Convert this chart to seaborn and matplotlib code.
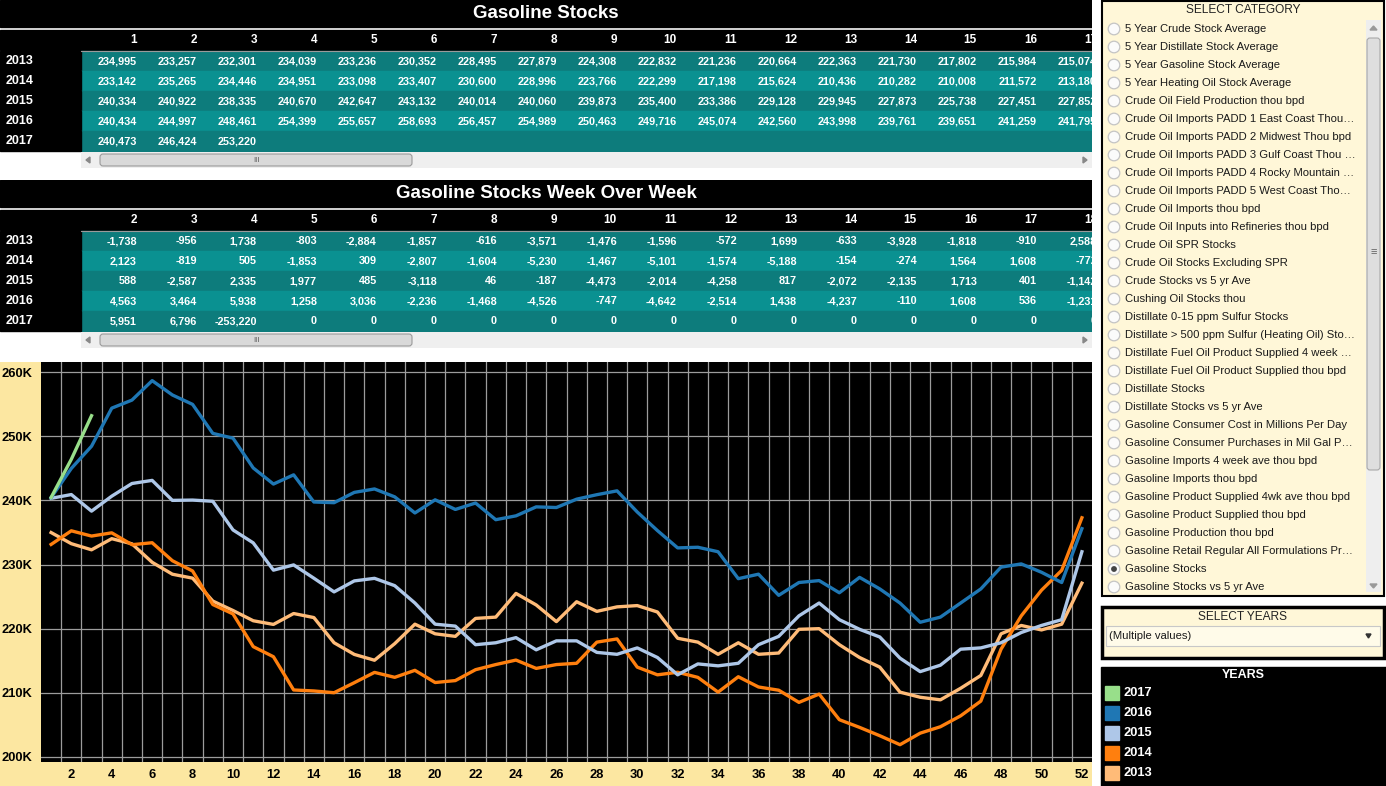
import matplotlib
matplotlib.use("Agg")
import matplotlib.pyplot as plt
import numpy as np
import pandas as pd
import seaborn as sns
from matplotlib.patches import Rectangle, Circle, FancyBboxPatch, Polygon
from matplotlib.ticker import FuncFormatter

# weekly gasoline stocks (thousand barrels), weeks 1..52
years = [2013, 2014, 2015, 2016, 2017]
stocks_2013 = [234995, 233257, 232301, 234039, 233236, 230352, 228495, 227879, 224308, 222832,
               221236, 220664, 222363, 221730, 217802, 215984, 215074, 217662, 220700, 219200,
               218800, 221600, 221800, 225500, 223700, 221100, 224200, 222700, 223400, 223600,
               222600, 218500, 217900, 216000, 217800, 216000, 216200, 219900, 220000, 217500,
               215500, 214000, 210100, 209300, 208900, 210700, 212700, 219200, 220500, 219800,
               220700, 227100]
stocks_2014 = [233142, 235265, 234446, 234951, 233098, 233407, 230600, 228996, 223766, 222299,
               217198, 215624, 210436, 210282, 210008, 211572, 213180, 212408, 213500, 211600,
               211900, 213600, 214400, 215100, 213800, 214400, 214600, 217900, 218400, 214000,
               212800, 213200, 212400, 210100, 212500, 210900, 210400, 208500, 209800, 205800,
               204600, 203300, 201900, 203700, 204700, 206400, 208700, 216800, 222000, 226000,
               229100, 237300]
stocks_2015 = [240334, 240922, 238335, 240670, 242647, 243132, 240014, 240060, 239873, 235400,
               233386, 229128, 229945, 227873, 225738, 227451, 227852, 226710, 224000, 220700,
               220400, 217500, 217800, 218600, 216700, 218100, 218100, 216300, 216000, 217000,
               215500, 212800, 214500, 214200, 214600, 217500, 218800, 222000, 224000, 221400,
               219900, 218700, 215400, 213300, 214300, 216800, 217000, 217800, 219400, 220500,
               221400, 232000]
stocks_2016 = [240434, 244997, 248461, 254399, 255657, 258693, 256457, 254989, 250463, 249716,
               245074, 242560, 243998, 239761, 239651, 241259, 241795, 240564, 238050, 240100,
               238600, 239600, 237000, 237600, 239000, 238900, 240200, 240900, 241500, 238200,
               235300, 232600, 232700, 232000, 227800, 228500, 225200, 227200, 227500, 225600,
               228000, 226200, 224000, 221000, 221800, 224000, 226200, 229600, 230100, 228800,
               227200, 235600]
stocks_2017 = [240473, 246424, 253220]
year_colors = ["#ffbb78", "#ff7f0e", "#aec7e8", "#1f77b4", "#98df8a"]

categories = [
    "5 Year Crude Stock Average", "5 Year Distillate Stock Average",
    "5 Year Gasoline Stock Average", "5 Year Heating Oil Stock Average",
    "Crude Oil Field Production thou bpd", "Crude Oil Imports PADD 1 East Coast Thou\u2026",
    "Crude Oil Imports PADD 2 Midwest Thou bpd", "Crude Oil Imports PADD 3 Gulf Coast Thou \u2026",
    "Crude Oil Imports PADD 4 Rocky Mountain \u2026", "Crude Oil Imports PADD 5 West Coast Tho\u2026",
    "Crude Oil Imports thou bpd", "Crude Oil Inputs into Refineries thou bpd",
    "Crude Oil SPR Stocks", "Crude Oil Stocks Excluding SPR", "Crude Stocks vs 5 yr Ave",
    "Cushing Oil Stocks thou", "Distillate 0-15 ppm Sulfur Stocks",
    "Distillate > 500 ppm Sulfur (Heating Oil) Sto\u2026",
    "Distillate Fuel Oil Product Supplied 4 week \u2026",
    "Distillate Fuel Oil Product Supplied thou bpd", "Distillate Stocks",
    "Distillate Stocks vs 5 yr Ave", "Gasoline Consumer Cost in Millions Per Day",
    "Gasoline Consumer Purchases in Mil Gal P\u2026", "Gasoline Imports 4 week ave thou bpd",
    "Gasoline Imports thou bpd", "Gasoline Product Supplied 4wk ave thou bpd",
    "Gasoline Product Supplied thou bpd", "Gasoline Production thou bpd",
    "Gasoline Retail Regular All Formulations Pr\u2026", "Gasoline Stocks",
    "Gasoline Stocks vs 5 yr Ave",
]
selected_category = "Gasoline Stocks"

plt.rcParams["font.family"] = ["Liberation Sans", "DejaVu Sans"]

all_stocks = [stocks_2013, stocks_2014, stocks_2015, stocks_2016, stocks_2017]
rows = []
for yr, vals in zip(years, all_stocks):
    for wk, v in enumerate(vals, start=1):
        rows.append({"year": yr, "week": wk, "stock": v / 1000})
df = pd.DataFrame(rows)

# week over week change, missing weeks count as 0 (like the dashboard)
padded = {yr: np.array(v + [0] * (52 - len(v))) for yr, v in zip(years, all_stocks)}
wow = {yr: np.diff(padded[yr]) for yr in years}

W, H = 1386, 786
fig = plt.figure(figsize=(W / 100, H / 100), dpi=100)
fig.patch.set_facecolor("white")


def panel(x, y, w, h):
    ax = fig.add_axes([x / W, 1 - (y + h) / H, w / W, h / H])
    ax.set_xlim(x, x + w)
    ax.set_ylim(y + h, y)
    ax.axis("off")
    return ax


teal = ["#0d7c7c", "#0a9191"]


def scrollbar(ax, y):
    ax.add_patch(Rectangle((81, y), 1011, 16, facecolor="#efefef", edgecolor="none"))
    ax.add_patch(FancyBboxPatch((100, y + 2), 312, 12, boxstyle="round,pad=0,rounding_size=3",
                                facecolor="#d9d9d9", edgecolor="#9a9a9a", lw=0.8))
    ax.text(256, y + 8, "III", ha="center", va="center", fontsize=5.5, color="#555555")
    ax.add_patch(Polygon([[86, y + 8], [90, y + 5], [90, y + 11]], color="#888888"))
    ax.add_patch(Polygon([[1087, y + 8], [1083, y + 5], [1083, y + 11]], color="#888888"))


def draw_table(top, title, cols, values):
    ax = panel(0, top, 1092, 168)
    ax.add_patch(Rectangle((0, top), 1092, 27, color="black"))
    ax.text(546, top + 14, title, ha="center", va="center", color="white",
            fontsize=13.5, fontweight="bold")
    hy = top + 30
    ax.add_patch(Rectangle((0, hy), 1092, 20, color="black"))
    ax.plot([81, 1092], [hy + 20.5, hy + 20.5], color="#9a9a9a", lw=0.8)
    for i, c in enumerate(cols):
        ax.text(137 + 60 * i, hy + 10, str(c), ha="right", va="center", color="white",
                fontsize=8.5, fontweight="bold", clip_on=True)
    for r, yr in enumerate(years):
        ry = hy + 21 + 20 * r
        ax.add_patch(Rectangle((81, ry), 1011, 20, color=teal[r % 2]))
        ax.add_patch(Rectangle((0, ry), 81, 20, color="black"))
        ax.text(6, ry + 10, str(yr), ha="left", va="center", color="white",
                fontsize=9, fontweight="bold")
        for i, v in enumerate(values[yr]):
            ax.text(137 + 60 * i, ry + 10, f"{v:,}", ha="right", va="center", color="white",
                    fontsize=7.8, fontweight="bold", clip_on=True)
    scrollbar(ax, hy + 122)


week_cols = list(range(1, 18))
draw_table(0, "Gasoline Stocks", week_cols,
           {yr: list(v[:17]) for yr, v in zip(years, all_stocks)})
wow_cols = list(range(2, 19))
draw_table(180, "Gasoline Stocks Week Over Week", wow_cols,
           {yr: [int(x) for x in wow[yr][:17]] for yr in years})

# chart background (yellow axis bands)
bg = panel(0, 362, 1092, 424)
bg.add_patch(Rectangle((0, 362), 1092, 424, color="#fce7a1"))

ax = fig.add_axes([41 / W, 1 - 762 / H, 1051 / W, 400 / H])
ax.set_facecolor("black")
sns.lineplot(data=df, x="week", y="stock", hue="year", hue_order=years,
             palette=year_colors, linewidth=2.4, legend=False, errorbar=None, ax=ax)
ax.set_xlim(0.5, 52.5)
ax.set_ylim(199.2, 261.6)
ax.set_xticks(range(2, 53, 2))
ax.set_xticks(np.arange(1.5, 52, 1), minor=True)
ax.set_yticks(range(200, 261, 10))
ax.yaxis.set_major_formatter(FuncFormatter(lambda v, p: f"{v:.0f}K"))
ax.grid(False)
ax.grid(which="minor", axis="x", color="#9c9c9c", lw=0.9)
ax.grid(which="major", axis="y", color="#9c9c9c", lw=0.9)
ax.set_axisbelow(True)
ax.tick_params(which="both", length=0)
ax.tick_params(axis="x", pad=5)
ax.tick_params(axis="y", pad=6)
for lab in ax.get_xticklabels() + ax.get_yticklabels():
    lab.set_fontweight("bold")
    lab.set_fontsize(9.3)
ax.set_xlabel("")
ax.set_ylabel("")
for s in ax.spines.values():
    s.set_visible(False)

# right side controls
rp = panel(1092, 0, 294, 786)
rp.add_patch(Rectangle((1102, 1), 282, 595, facecolor="#fff7d8", edgecolor="black", lw=1.5))
rp.text(1243, 10, "SELECT CATEGORY", ha="center", va="center", fontsize=8.6, color="#222222")
for i, name in enumerate(categories):
    cy = 29 + 18 * i
    rp.add_patch(Circle((1114, cy), 5.8, facecolor="#fbfbfb", edgecolor="#c4c4c4", lw=0.9))
    if name == selected_category:
        rp.add_patch(Circle((1114, cy), 2.2, color="#444444"))
    rp.text(1125, cy, name, ha="left", va="center", fontsize=8.1, color="#1a1a1a")
rp.add_patch(Rectangle((1366, 20), 15, 572, facecolor="#eeeeee", edgecolor="none"))
rp.add_patch(FancyBboxPatch((1367, 38), 13, 432, boxstyle="round,pad=0,rounding_size=3",
                            facecolor="#dedede", edgecolor="#a8a8a8", lw=0.8))
rp.text(1373.5, 252, "\u2261", ha="center", va="center", fontsize=8, color="#666666")
rp.add_patch(Polygon([[1373.5, 26], [1370, 30], [1377, 30]], color="#999999"))
rp.add_patch(Polygon([[1373.5, 588], [1370, 584], [1377, 584]], color="#999999"))

rp.add_patch(Rectangle((1102, 607), 282, 51, facecolor="#fff7d8", edgecolor="black", lw=2.5))
rp.text(1243, 617, "SELECT YEARS", ha="center", va="center", fontsize=8.6, color="#222222")
rp.add_patch(Rectangle((1106, 626), 274, 20, facecolor="#fffbe9", edgecolor="#c8c8c8", lw=0.8))
rp.text(1109, 636, "(Multiple values)", ha="left", va="center", fontsize=8.1, color="#1a1a1a")
rp.add_patch(Polygon([[1368.5, 638], [1366, 634], [1371, 634]], color="#333333"))

rp.add_patch(Rectangle((1101, 667), 285, 119, color="black"))
rp.text(1243, 675, "YEARS", ha="center", va="center", fontsize=9, fontweight="bold",
        color="white")
for i, (yr, col) in enumerate(zip(years[::-1], year_colors[::-1])):
    ly = 693 + 20 * i
    rp.add_patch(Rectangle((1105, ly - 7), 14, 14, color=col))
    rp.text(1124, ly, str(yr), ha="left", va="center", fontsize=9.3, fontweight="bold",
            color="white")

fig.savefig("out.png", dpi=100)
